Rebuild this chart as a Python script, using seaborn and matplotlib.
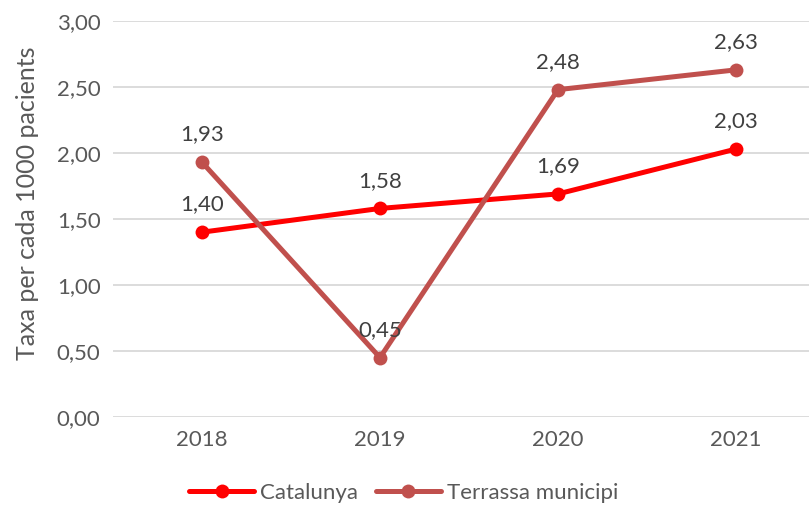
import pandas as pd
import matplotlib.pyplot as plt
import seaborn as sns

# === data ===
years = ["2018", "2019", "2020", "2021"]
catalunya = [1.40, 1.58, 1.69, 2.03]
terrassa = [1.93, 0.45, 2.48, 2.63]
series_names = ["Catalunya", "Terrassa municipi"]
colors = ["#FF0000", "#C0504D"]

df = pd.DataFrame({
    "Any": years * 2,
    "Taxa": catalunya + terrassa,
    "Serie": [series_names[0]] * len(years) + [series_names[1]] * len(years),
})

sns.set_style("white")
plt.rcParams["font.family"] = ["Lato", "DejaVu Sans"]

fig = plt.figure(figsize=(8.09, 5.05), dpi=100)
ax = fig.add_axes([113 / 809, 1 - 417 / 505, 712 / 809, 396 / 505])

sns.lineplot(data=df, x="Any", y="Taxa", hue="Serie", palette=colors,
             marker="o", markersize=10, markeredgewidth=0, linewidth=3.6,
             ax=ax, sort=False)

# data labels
for vals in (catalunya, terrassa):
    for i, v in enumerate(vals):
        ax.annotate(f"{v:.2f}".replace(".", ","), (i, v), xytext=(0, 20),
                    textcoords="offset points", ha="center", va="center",
                    fontsize=16, color="#404040")

ax.set_xlim(-0.5, 3.5)
ax.set_ylim(0, 3)
ax.set_yticks([0, 0.5, 1, 1.5, 2, 2.5, 3])
ax.set_yticklabels([f"{t:.2f}".replace(".", ",") for t in ax.get_yticks()])
ax.yaxis.grid(True, color="#D9D9D9", linewidth=1.3)
ax.set_axisbelow(True)
for s in ax.spines.values():
    s.set_visible(False)
ax.tick_params(axis="both", length=0, labelsize=16, colors="#595959", pad=9)
ax.set_xlabel("")
ax.set_ylabel("Taxa per cada 1000 pacients", fontsize=18, color="#595959")
ax.yaxis.set_label_coords(-74 / 712, 0.54)

leg = ax.legend(loc="center", bbox_to_anchor=((404 - 113) / 712, -76 / 396), ncol=2,
                frameon=False, fontsize=16, handlelength=2.9, columnspacing=0.8,
                handletextpad=0.3, labelcolor="#595959")

fig.savefig("out.png", dpi=100)
